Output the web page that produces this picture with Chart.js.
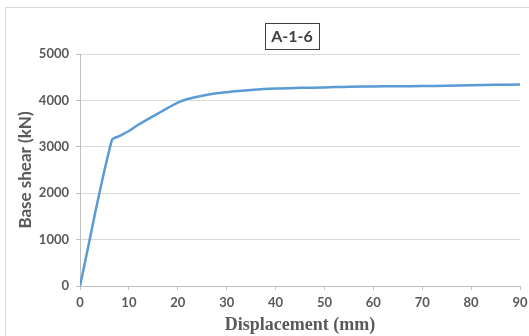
<!DOCTYPE html>
<html>
<head>
<meta charset="utf-8">
<script src="https://cdn.jsdelivr.net/npm/chart.js@4.4.0/dist/chart.umd.min.js"></script>
<style>
  html, body { margin: 0; padding: 0; background: #fff; overflow: hidden; }
  #frame { position: absolute; left: 5px; top: 7px; width: 600px; height: 400px; border: 1px solid #d9d9d9; }
  #wrap { position: absolute; left: 0; top: 0; width: 529px; height: 336px; }
</style>
</head>
<body>
<div id="frame"></div>
<div id="wrap"><canvas id="grafica" width="529" height="336"></canvas></div>
<script>
// datos
const displacement = [0, 6.5, 8, 10, 12, 14, 16, 18, 20, 22, 25, 28, 31, 35, 40, 45, 50, 55, 60, 65, 70, 75, 80, 85, 90];
const baseShear = [0, 3140, 3230, 3340, 3480, 3600, 3720, 3840, 3950, 4030, 4100, 4155, 4190, 4225, 4255, 4270, 4280, 4295, 4300, 4305, 4310, 4315, 4325, 4335, 4340];
const xTicks = [0, 10, 20, 30, 40, 50, 60, 70, 80, 90];
const yTicks = [0, 1000, 2000, 3000, 4000, 5000];
const chartTitle = 'A-1-6';

const ctx = document.getElementById('grafica');

// caja alrededor del titulo
const boxedTitle = {
    id: 'boxedTitle',
    afterDraw(chart) {
        const c = chart.ctx;
        c.save();
        c.font = 'bold 16px Lato';
        c.fillStyle = '#404040';
        c.textAlign = 'center';
        c.textBaseline = 'middle';
        const cx = 292, cy = 37;
        const w = c.measureText(chartTitle).width + 12;
        c.fillText(chartTitle, cx, cy);
        c.strokeStyle = '#404040';
        c.lineWidth = 1;
        c.strokeRect(Math.round(cx - w / 2) + 0.5, 23.5, Math.round(w), 26);
        c.restore();
    }
};

new Chart(ctx, {
    type: 'line',
    data: {
        datasets: [{
            data: displacement.map((x, i) => ({ x: x, y: baseShear[i] })),
            borderColor: '#5b9bd5',
            borderWidth: 2.5,
            pointRadius: 0,
            tension: 0.35,
            fill: false
        }]
    },
    options: {
        responsive: false,
        animation: false,
        layout: { padding: { top: 54, right: 9, left: 15, bottom: 0 } },
        plugins: { legend: { display: false }, title: { display: false }, tooltip: { enabled: false } },
        scales: {
            x: {
                type: 'linear',
                min: 0, max: 90,
                afterBuildTicks: (s) => { s.ticks = xTicks.map(v => ({ value: v })); },
                afterFit: (s) => { s.height = 50; s.paddingRight = 0; s.paddingLeft = 0; },
                grid: { drawOnChartArea: false, drawTicks: true, tickLength: 4, color: '#bfbfbf' },
                border: { color: '#bfbfbf' },
                ticks: { color: '#595959', font: { family: 'Lato', size: 13, weight: 'bold' }, padding: 5, maxRotation: 0 },
                title: { display: true, text: 'Displacement (mm)', color: '#595959', font: { family: 'Liberation Serif', size: 18, weight: 'bold' }, padding: { top: 1, bottom: 0 } }
            },
            y: {
                min: 0, max: 5000,
                afterBuildTicks: (s) => { s.ticks = yTicks.map(v => ({ value: v })); },
                afterFit: (s) => { s.width = 65; },
                grid: { color: '#d9d9d9', drawTicks: true, tickLength: 4, tickColor: '#bfbfbf' },
                border: { color: '#bfbfbf' },
                ticks: { color: '#595959', font: { family: 'Lato', size: 13, weight: 'bold' }, padding: 7, callback: (v) => String(v) },
                title: { display: true, text: 'Base shear (kN)', color: '#595959', font: { family: 'Lato', size: 17, weight: 'bold' }, padding: { top: 0, bottom: 0 } }
            }
        }
    },
    plugins: [boxedTitle]
});
</script>
</body>
</html>
